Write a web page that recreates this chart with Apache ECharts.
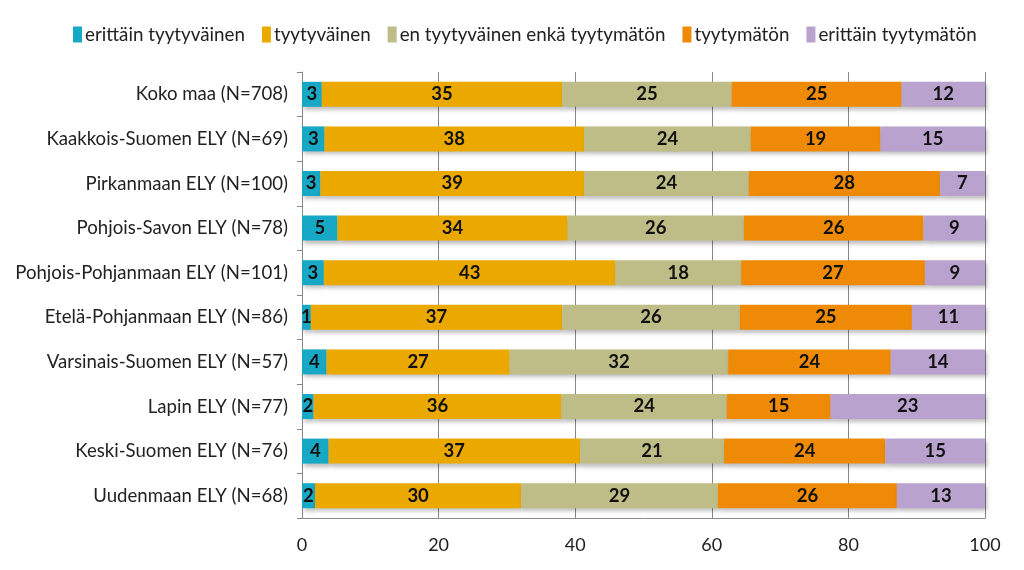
<!DOCTYPE html>
<html><head><meta charset="utf-8">
<script src="https://cdn.jsdelivr.net/npm/echarts@6/dist/echarts.min.js"></script>
<style>html,body{margin:0;padding:0;background:#fff}#c{width:1024px;height:570px}</style>
</head><body><div id="c"></div>
<script>
const categories = [
  'Koko maa (N=708)',
  'Kaakkois-Suomen ELY (N=69)',
  'Pirkanmaan ELY (N=100)',
  'Pohjois-Savon ELY (N=78)',
  'Pohjois-Pohjanmaan ELY (N=101)',
  'Etelä-Pohjanmaan ELY (N=86)',
  'Varsinais-Suomen ELY (N=57)',
  'Lapin ELY (N=77)',
  'Keski-Suomen ELY (N=76)',
  'Uudenmaan ELY (N=68)'
];
const seriesNames = ['erittäin tyytyväinen','tyytyväinen','en tyytyväinen enkä tyytymätön','tyytymätön','erittäin tyytymätön'];
const erittainTyytyvainen = [2.9, 3.3, 2.7, 5.2, 3.2, 1.3, 3.6, 1.7, 3.9, 1.9];
const tyytyvainen        = [35.2, 38.0, 38.6, 33.7, 42.7, 36.8, 26.8, 36.3, 36.8, 30.2];
const enEnka             = [24.8, 24.4, 24.1, 25.8, 18.4, 26.0, 32.0, 24.2, 21.1, 28.8];
const tyytymaton         = [24.9, 19.0, 28.0, 26.3, 26.9, 25.2, 23.8, 15.2, 23.6, 26.2];
const erittainTyytymaton = [12.2, 15.3, 6.6, 9.0, 8.8, 10.7, 13.8, 22.6, 14.6, 12.9];
const xTicks = [0, 20, 40, 60, 80, 100];
const colors = ['#17A8C6','#EBA900','#BEBC87','#EE8A06','#BAA2CF'];
const allData = [erittainTyytyvainen, tyytyvainen, enEnka, tyytymaton, erittainTyytymaton];

const FONT = 'Lato';
const chart = echarts.init(document.getElementById('c'));
chart.setOption({
  animation: false,
  color: colors,
  textStyle: { fontFamily: FONT },
  legend: {
    top: 20, left: 68,
    icon: 'rect', itemWidth: 9, itemHeight: 16, itemGap: 17,
    textStyle: { fontSize: 18.8, color: '#222', fontFamily: FONT, padding: [0,0,0,-2] },
    data: seriesNames
  },
  grid: { left: 302, right: 39, top: 72, height: 446 },
  xAxis: {
    type: 'value', min: 0, max: 100, interval: 20,
    axisLine: { show: true, lineStyle: { color: '#888' } },
    axisTick: { show: false },
    splitLine: { show: true, lineStyle: { color: '#888', width: 1 } },
    axisLabel: { fontSize: 18, color: '#222', margin: 18, fontFamily: FONT,
      formatter: v => xTicks.includes(v) ? String(v) : '' }
  },
  yAxis: {
    type: 'category', inverse: true, data: categories,
    axisLine: { show: true, lineStyle: { color: '#888' } },
    axisTick: { show: true, length: 5, lineStyle: { color: '#888' } },
    axisLabel: { fontSize: 18.6, color: '#222', margin: 14, fontFamily: FONT }
  },
  series: seriesNames.map((n, i) => ({
    name: n, type: 'bar', stack: 'total', barWidth: 25,
    data: allData[i],
    itemStyle: { color: colors[i], shadowColor: 'rgba(0,0,0,0.25)', shadowBlur: 4, shadowOffsetX: 2, shadowOffsetY: 3 },
    label: { show: true, position: 'inside', color: '#111', fontWeight: 'bold', fontSize: 18.5, fontFamily: FONT,
      formatter: p => String(Math.round(p.value)) }
  }))
});
</script></body></html>
